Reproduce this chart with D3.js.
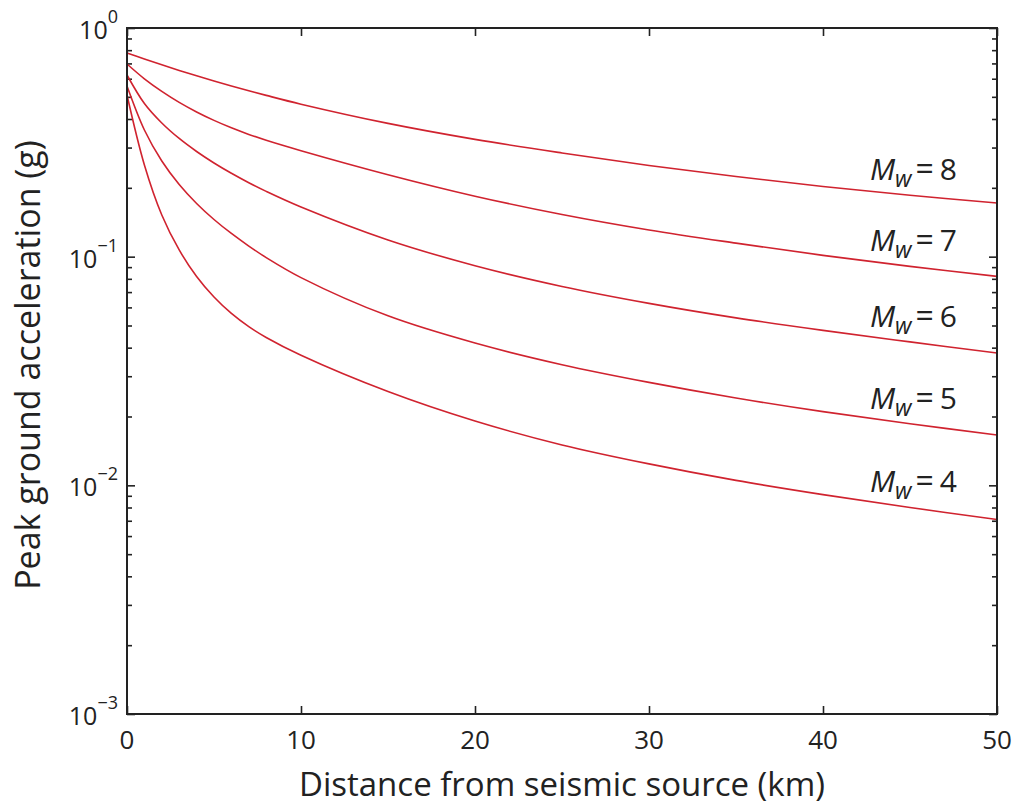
<!DOCTYPE html>
<html><head><meta charset="utf-8">
<script src="https://cdn.jsdelivr.net/npm/d3@7"></script>
<style>
html,body{margin:0;padding:0;background:#fff;}
text{font-family:"Open Sans",sans-serif;fill:#222;}
</style></head>
<body>
<svg id="chart" width="1020" height="807"></svg>
<script>
// Distances (km)
const distances = [0, 1, 2, 3, 4, 5, 6, 7, 8, 10, 15, 20, 25, 30, 35, 40, 45, 50];
// Peak ground acceleration (g) per magnitude
const pgaMw8 = [0.7775, 0.7319, 0.6904, 0.6525, 0.6180, 0.5865, 0.5577, 0.5314, 0.5073, 0.4643, 0.3827, 0.3258, 0.2841, 0.2505, 0.2242, 0.2027, 0.1857, 0.1717];
const pgaMw7 = [0.6960, 0.5996, 0.5282, 0.4728, 0.4293, 0.3944, 0.3661, 0.3426, 0.3228, 0.2907, 0.2283, 0.1839, 0.1529, 0.1308, 0.1146, 0.1013, 0.0907, 0.0820];
const pgaMw6 = [0.6230, 0.4676, 0.3842, 0.3287, 0.2884, 0.2569, 0.2316, 0.2106, 0.1930, 0.1649, 0.1183, 0.0913, 0.0741, 0.0625, 0.0540, 0.0476, 0.0424, 0.0379];
const pgaMw5 = [0.5577, 0.3581, 0.2621, 0.2069, 0.1709, 0.1454, 0.1263, 0.1113, 0.0991, 0.0810, 0.0551, 0.0419, 0.0337, 0.0282, 0.0241, 0.0210, 0.0186, 0.0166];
const pgaMw4 = [0.5094, 0.2518, 0.1522, 0.1070, 0.0819, 0.0666, 0.05645, 0.04943, 0.04434, 0.03706, 0.02572, 0.01911, 0.01502, 0.01241, 0.01051, 0.00911, 0.00800, 0.00709];
const magnitudes = ["8", "7", "6", "5", "4"];
const seriesValues = [pgaMw8, pgaMw7, pgaMw6, pgaMw5, pgaMw4];
const xTickValues = [0, 10, 20, 30, 40, 50];
const yDecades = [1e-3, 1e-2, 1e-1, 1];
const yExponents = ["\u22123", "\u22122", "\u22121", "0"];
const labelDistance = 45;

const svg = d3.select("#chart");
const pLeft = 127, pRight = 997, pTop = 28, pBottom = 714;
const x = d3.scaleLinear().domain([0, 50]).range([pLeft, pRight]);
const y = d3.scaleLog().domain([1e-3, 1]).range([pBottom, pTop]);

// minor ticks
const minorVals = [];
for (let i = 0; i < 3; i++) for (let k = 2; k <= 9; k++) minorVals.push(k * yDecades[i]);

const axisColor = "#222";
function styleAxis(g){ g.select(".domain").remove(); g.selectAll("line").attr("stroke", axisColor).attr("stroke-width", 1.6); g.selectAll("text").remove(); }

svg.append("g").attr("transform", `translate(0,${pBottom})`).call(d3.axisBottom(x).tickValues(xTickValues).tickSize(-8)).call(styleAxis);
svg.append("g").attr("transform", `translate(0,${pTop})`).call(d3.axisTop(x).tickValues(xTickValues).tickSize(-8)).call(styleAxis);
svg.append("g").attr("transform", `translate(${pLeft},0)`).call(d3.axisLeft(y).tickValues(yDecades).tickSize(-8)).call(styleAxis);
svg.append("g").attr("transform", `translate(${pLeft},0)`).call(d3.axisLeft(y).tickValues(minorVals).tickSize(-5)).call(styleAxis);
svg.append("g").attr("transform", `translate(${pRight},0)`).call(d3.axisRight(y).tickValues(yDecades).tickSize(-8)).call(styleAxis);
svg.append("g").attr("transform", `translate(${pRight},0)`).call(d3.axisRight(y).tickValues(minorVals).tickSize(-5)).call(styleAxis);

// curves
const line = d3.line().x(d => x(d[0])).y(d => y(d[1])).curve(d3.curveCatmullRom.alpha(0.5));
seriesValues.forEach(vals => {
  svg.append("path").datum(distances.map((d, i) => [d, vals[i]]))
    .attr("d", line).attr("fill", "none").attr("stroke", "#d0232f").attr("stroke-width", 1.6);
});

// frame
svg.append("rect").attr("x", pLeft).attr("y", pTop).attr("width", pRight - pLeft).attr("height", pBottom - pTop)
  .attr("fill", "none").attr("stroke", axisColor).attr("stroke-width", 2);

// x tick labels
svg.selectAll(".xl").data(xTickValues).enter().append("text")
  .attr("x", d => x(d)).attr("y", pBottom + 35).attr("text-anchor", "middle")
  .attr("font-size", 26).text(d => d);

// y tick labels
yDecades.forEach((v, i) => {
  const t = svg.append("text").attr("x", 118).attr("y", y(v) + 11).attr("text-anchor", "end").attr("font-size", 25);
  t.append("tspan").text("10");
  t.append("tspan").attr("dy", -16).attr("font-size", 18).text(yExponents[i]);
});

// magnitude labels
const idx = distances.indexOf(labelDistance);
seriesValues.forEach((vals, i) => {
  const t = svg.append("text").attr("x", 957).attr("y", y(vals[idx]) - 15).attr("text-anchor", "end").attr("font-size", 30);
  t.append("tspan").attr("font-style", "italic").text("M");
  t.append("tspan").attr("font-style", "italic").attr("font-size", 23).attr("dy", 7).text("w");
  t.append("tspan").attr("dy", -7).attr("dx", 4).attr("font-size", 32).text("=");
  t.append("tspan").attr("dx", 6).text(magnitudes[i]);
});

// axis titles
svg.append("text").attr("x", (pLeft + pRight) / 2).attr("y", 796).attr("text-anchor", "middle")
  .attr("font-size", 33).text("Distance from seismic source (km)");
svg.append("text").attr("transform", `translate(40,365) rotate(-90)`).attr("text-anchor", "middle")
  .attr("font-size", 34).text("Peak ground acceleration (g)");
</script>
</body></html>
